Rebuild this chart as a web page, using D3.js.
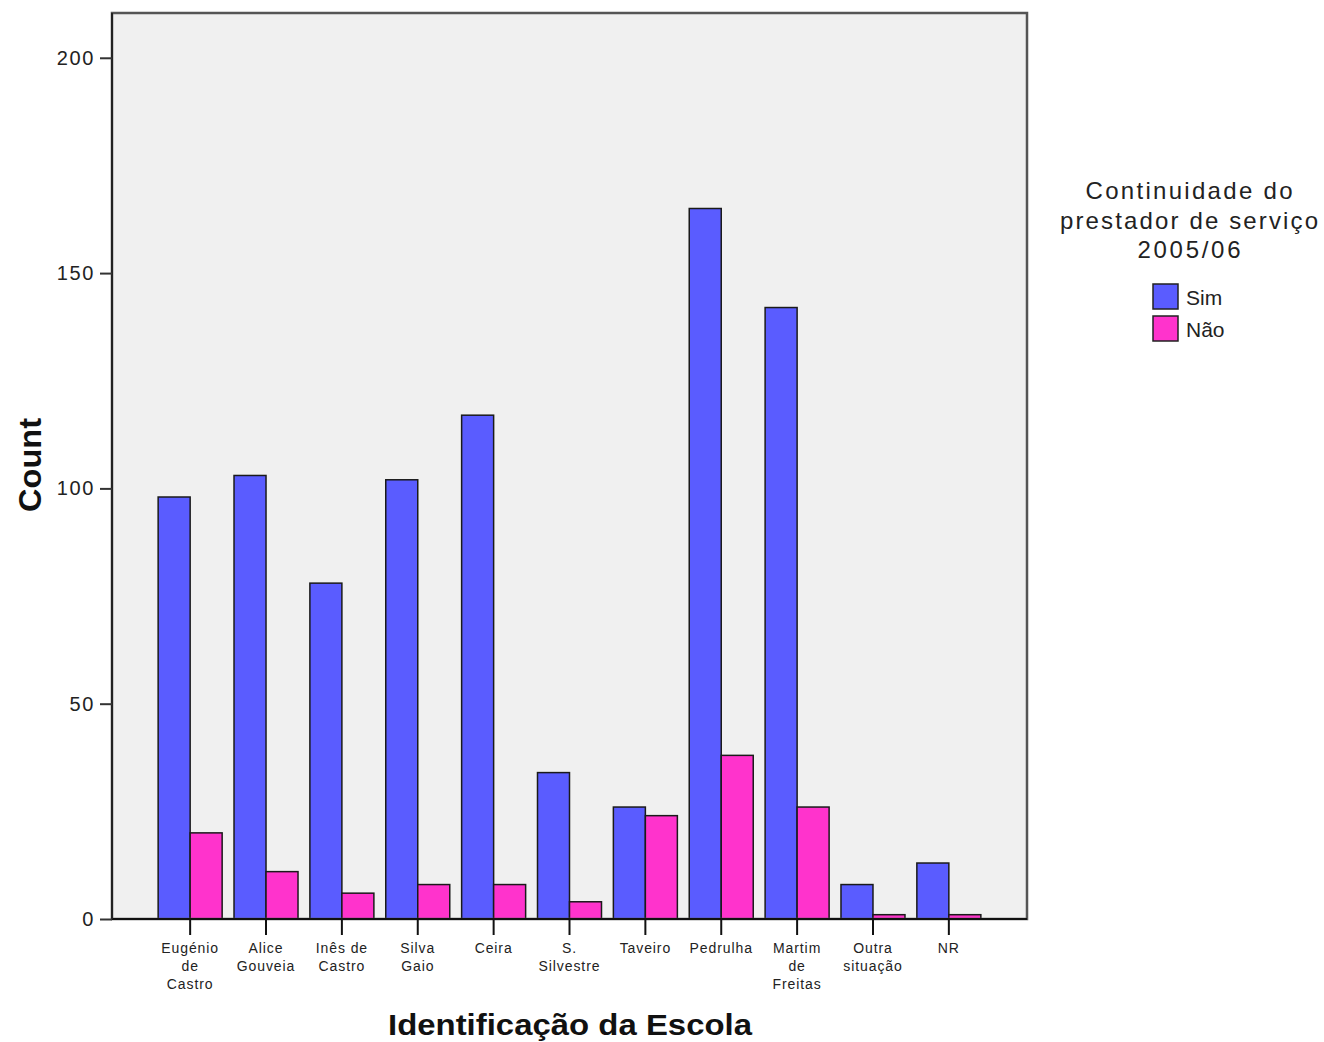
<!DOCTYPE html>
<html><head><meta charset="utf-8">
<script src="https://cdn.jsdelivr.net/npm/d3@7"></script>
<style>body{margin:0;background:#fff}svg{display:block}text{font-family:"Liberation Sans",Arial,sans-serif}</style>
</head><body>
<script>
const categories = [["Eugénio","de","Castro"],["Alice","Gouveia"],["Inês de","Castro"],["Silva","Gaio"],["Ceira"],["S.","Silvestre"],["Taveiro"],["Pedrulha"],["Martim","de","Freitas"],["Outra","situação"],["NR"]];
const seriesNames = ["Sim","Não"];
const simValues = [98,103,78,102,117,34,26,165,142,8,13];
const naoValues = [20,11,6,8,8,4,24,38,26,1,1];
const yTicks = [0,50,100,150,200];
const colors = ["#5a5cff","#ff33cc"];

const W=1324,H=1042;
const svg=d3.select("body").append("svg").attr("width",W).attr("height",H);
const L=112,R=1027,T=13,B=919;
const keys=categories.map((c,i)=>i);
const x=d3.scaleBand().domain(keys).range([L,R]).paddingInner(0).paddingOuter(0.53);
const y=d3.scaleLinear().domain([0,210.4]).range([B,T]);
const sub=d3.scaleBand().domain(seriesNames).range([x.bandwidth()/2-32,x.bandwidth()/2+32]);

svg.append("rect").attr("x",L).attr("y",T).attr("width",R-L).attr("height",B-T).attr("fill","#f0f0f0");

const data=[simValues,naoValues];
const g=svg.append("g");
keys.forEach(i=>{
  seriesNames.forEach((s,j)=>{
    g.append("rect").attr("x",x(i)+sub(s)).attr("y",y(data[j][i]))
     .attr("width",sub.bandwidth()).attr("height",y(0)-y(data[j][i]))
     .attr("fill",colors[j]).attr("stroke","#1a1a1a").attr("stroke-width",1.5);
  });
});

// frame
svg.append("rect").attr("x",L).attr("y",T).attr("width",R-L).attr("height",B-T).attr("fill","none").attr("stroke","#555").attr("stroke-width",2.5);
svg.append("line").attr("x1",L).attr("x2",R).attr("y1",B).attr("y2",B).attr("stroke","#111").attr("stroke-width",2);
svg.append("line").attr("x1",L).attr("x2",L).attr("y1",T).attr("y2",B).attr("stroke","#222").attr("stroke-width",2);

// y axis
const ya=svg.append("g").attr("transform",`translate(${L},0)`)
  .call(d3.axisLeft(y).tickValues(yTicks).tickSize(12).tickPadding(5));
ya.select(".domain").remove();
ya.selectAll("line").attr("stroke","#333").attr("stroke-width",2);
ya.selectAll("text").attr("font-size",20).attr("letter-spacing",1.6).attr("fill","#222").attr("font-family","Liberation Sans, Arial, sans-serif");

// x axis
const xa=svg.append("g").attr("transform",`translate(0,${B})`)
  .call(d3.axisBottom(x).tickSize(16).tickFormat(""));
xa.select(".domain").remove();
xa.selectAll("line").attr("stroke","#111").attr("stroke-width",2);
xa.selectAll(".tick").each(function(d){
  const t=d3.select(this).append("text").attr("fill","#222").attr("font-size",14).attr("letter-spacing",0.9)
    .attr("text-anchor","middle").attr("y",34).attr("font-family","Liberation Sans, Arial, sans-serif");
  categories[d].forEach((ln,k)=>t.append("tspan").attr("x",0).attr("dy",k?18:0).text(ln));
});

svg.append("text").attr("x",570).attr("y",1035).attr("text-anchor","middle")
  .attr("font-size",30).attr("font-weight","bold").attr("fill","#111")
  .attr("textLength",364).attr("lengthAdjust","spacingAndGlyphs").text("Identificação da Escola");
svg.append("text").attr("transform","translate(41,465) rotate(-90)").attr("text-anchor","middle")
  .attr("font-size",31).attr("font-weight","bold").attr("fill","#111")
  .attr("textLength",94).attr("lengthAdjust","spacingAndGlyphs").text("Count");

// legend
const lt=["Continuidade do","prestador de serviço","2005/06"];
const ltLen=[207,258,103];
lt.forEach((s,k)=>svg.append("text").attr("x",1189).attr("y",199+k*29.5).attr("text-anchor","middle")
  .attr("font-size",24).attr("fill","#222").attr("textLength",ltLen[k]).attr("lengthAdjust","spacing").text(s));
seriesNames.forEach((s,j)=>{
  svg.append("rect").attr("x",1153).attr("y",284+j*32).attr("width",25).attr("height",25)
    .attr("fill",colors[j]).attr("stroke","#222").attr("stroke-width",1.5);
  svg.append("text").attr("x",1186).attr("y",305+j*32).attr("font-size",21).attr("fill","#222").text(s);
});
</script>
</body></html>
